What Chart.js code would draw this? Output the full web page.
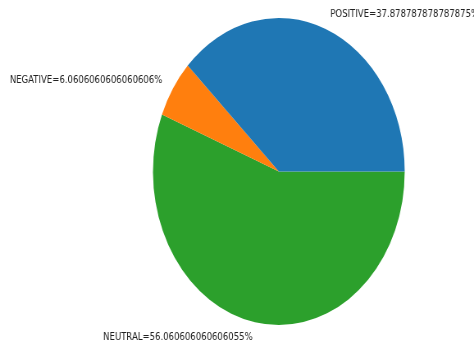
<!DOCTYPE html>
<html>
<head>
<meta charset="utf-8">
<script src="https://cdn.jsdelivr.net/npm/chart.js@4/dist/chart.umd.min.js"></script>
<style>
  html, body { margin: 0; padding: 0; background: #fff; }
  #c { display: block; width: 474px; height: 345px; }
</style>
</head>
<body>
<canvas id="c" width="578" height="345" style="width:474px;height:345px"></canvas>
<script>
// Data (matplotlib order: counter-clockwise from 3 o'clock)
const categories = ['POSITIVE', 'NEGATIVE', 'NEUTRAL'];
const percentages = [37.878787878787875, 6.0606060606060606, 56.060606060606055];
const colors = ['#1f77b4', '#ff7f0e', '#2ca02c'];

// Chart.js draws clockwise, so reverse to mimic matplotlib's counter-clockwise layout
const cjLabels = categories.slice().reverse();
const cjValues = percentages.slice().reverse();
const cjColors = colors.slice().reverse();
const cjText = categories.map((c, i) => c + '=' + String(percentages[i]) + '%').reverse();

const labelPlugin = {
  id: 'outerLabels',
  afterDraw(chart, args, opts) {
    const ctx = chart.ctx;
    const meta = chart.getDatasetMeta(0);
    ctx.save();
    ctx.font = '10.4px "DejaVu Sans"';
    ctx.fillStyle = '#222';
    ctx.textBaseline = 'middle';
    meta.data.forEach((arc, i) => {
      const mid = (arc.startAngle + arc.endAngle) / 2;
      const r = arc.outerRadius * opts.distance;
      const x = arc.x + r * Math.cos(mid);
      const y = arc.y + r * Math.sin(mid);
      ctx.textAlign = Math.cos(mid) > 0 ? 'left' : 'right';
      ctx.fillText(cjText[i], x, y);
    });
    ctx.restore();
  }
};

new Chart(document.getElementById('c'), {
  type: 'pie',
  data: {
    labels: cjLabels,
    datasets: [{
      data: cjValues,
      backgroundColor: cjColors,
      borderWidth: 0,
      hoverOffset: 0
    }]
  },
  options: {
    responsive: false,
    animation: false,
    rotation: 90,
    layout: { padding: { top: 18, bottom: 20, left: 110, right: 8 } },
    plugins: {
      legend: { display: false },
      tooltip: { enabled: false },
      outerLabels: { distance: 1.1 }
    }
  },
  plugins: [labelPlugin]
});
</script>
</body>
</html>
